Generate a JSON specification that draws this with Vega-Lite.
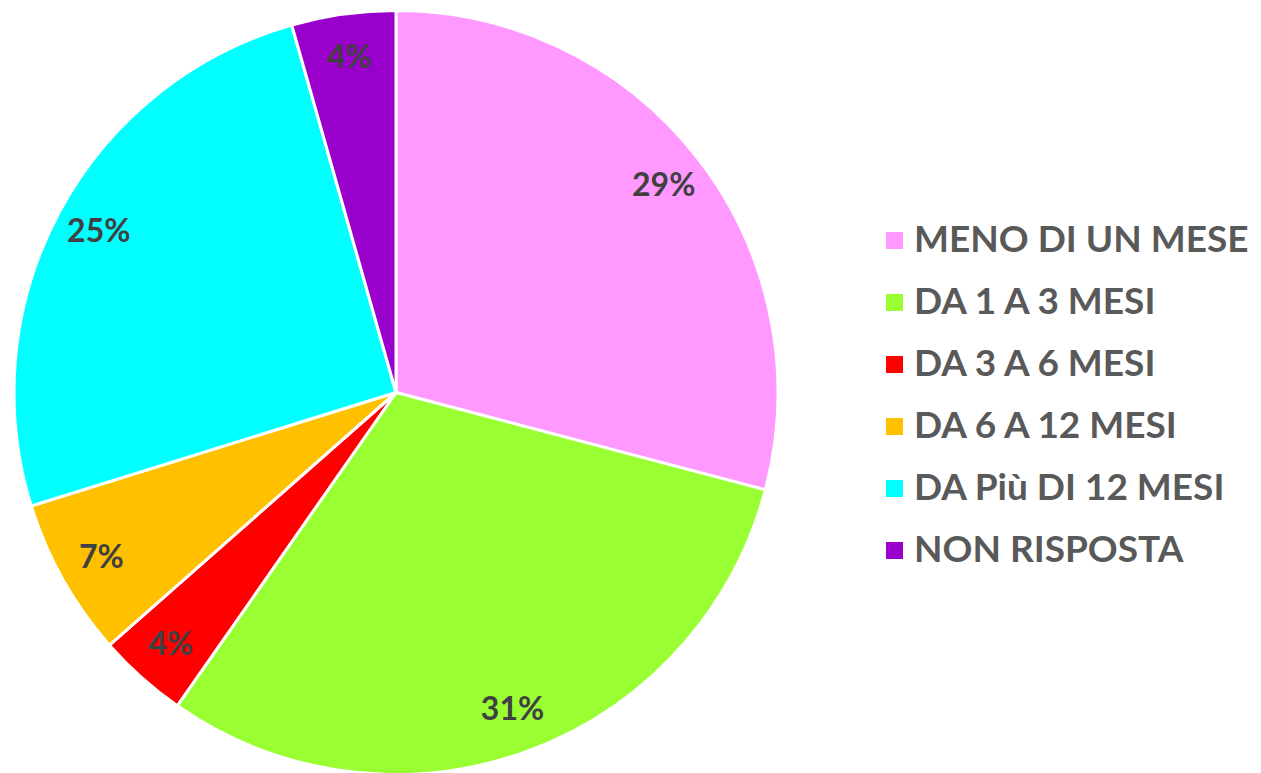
{
  "$schema": "https://vega.github.io/schema/vega-lite/v6.json",
  "autosize": "none",
  "padding": {"left": 14, "top": 12, "right": 483, "bottom": 0},
  "width": 764,
  "height": 761,
  "background": "white",
  "data": {
    "values": [
      {"idx": 1, "categoria": "MENO DI UN MESE", "quota": 0.291},
      {"idx": 2, "categoria": "DA 1 A 3 MESI", "quota": 0.306},
      {"idx": 3, "categoria": "DA 3 A 6 MESI", "quota": 0.038},
      {"idx": 4, "categoria": "DA 6 A 12 MESI", "quota": 0.067},
      {"idx": 5, "categoria": "DA Più DI 12 MESI", "quota": 0.254},
      {"idx": 6, "categoria": "NON RISPOSTA", "quota": 0.044}
    ]
  },
  "encoding": {
    "theta": {"field": "quota", "type": "quantitative", "stack": true},
    "order": {"field": "idx", "type": "quantitative"},
    "color": {
      "field": "categoria",
      "type": "nominal",
      "sort": ["MENO DI UN MESE", "DA 1 A 3 MESI", "DA 3 A 6 MESI", "DA 6 A 12 MESI", "DA Più DI 12 MESI", "NON RISPOSTA"],
      "scale": {
        "domain": ["MENO DI UN MESE", "DA 1 A 3 MESI", "DA 3 A 6 MESI", "DA 6 A 12 MESI", "DA Più DI 12 MESI", "NON RISPOSTA"],
        "range": ["#FF99FF", "#99FF33", "#FF0000", "#FFC000", "#00FFFF", "#9900CC"]
      },
      "legend": {
        "title": null,
        "orient": "none",
        "legendX": 862,
        "legendY": 210,
        "padding": 0,
        "symbolType": "square",
        "symbolSize": 289,
        "symbolStrokeWidth": 0,
        "labelFont": "Lato",
        "labelFontWeight": "bold",
        "labelFontSize": 37,
        "labelColor": "#595959",
        "labelOffset": 1,
        "rowPadding": 24,
        "labelLimit": 500
      }
    }
  },
  "layer": [
    {
      "mark": {"type": "arc", "outerRadius": 382, "stroke": "white", "strokeWidth": 3}
    },
    {
      "mark": {"type": "text", "radius": 338, "font": "Lato", "fontWeight": "bold", "fontSize": 32, "fill": "#404040"},
      "encoding": {
        "text": {"field": "quota", "type": "quantitative", "format": ".0%"}
      }
    }
  ]
}
